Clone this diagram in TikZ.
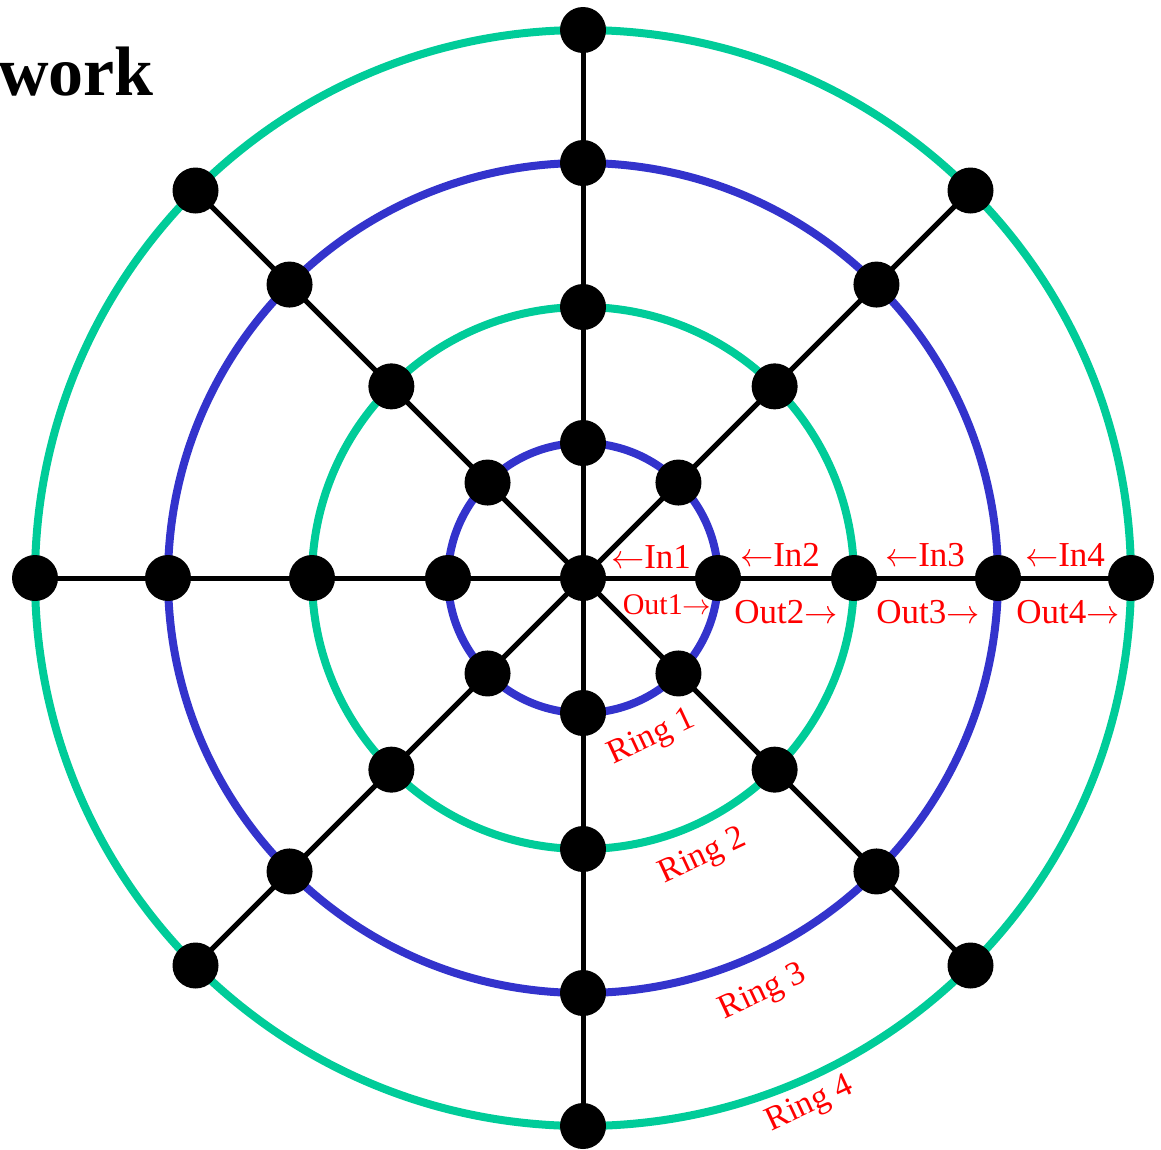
\documentclass[tikz,border=0pt]{standalone}
\usepackage{fontspec}
\setmainfont{Liberation Serif}
\usetikzlibrary{calc}
\definecolor{ringgreen}{HTML}{00CC99}
\definecolor{ringblue}{HTML}{3333CC}
\newcommand{\la}{\resizebox{0.95em}{!}{$\leftarrow$}}
\newcommand{\ra}{\resizebox{0.95em}{!}{$\rightarrow$}}
\begin{document}
\begin{tikzpicture}[x=1pt,y=-1pt,
  dot/.style={circle,fill=black,inner sep=0pt,minimum size=46pt},
  spoke/.style={line width=5pt,black},
  ringline/.style={line width=8pt},
  lbl/.style={text=red,inner sep=0pt,font=\fontsize{35}{38}\selectfont},
  smalllbl/.style={text=red,inner sep=0pt,font=\fontsize{30}{33}\selectfont},
  ringlbl/.style={text=red,inner sep=0pt,font=\fontsize{34}{38}\selectfont,rotate=25}]
\useasboundingbox (0,0) rectangle (1161,1149);
\coordinate (c) at (583,578);
% rings
\draw[ringline,ringblue] (c) circle[radius=135];
\draw[ringline,ringgreen] (c) circle[radius=271];
\draw[ringline,ringblue] (c) circle[radius=415];
\draw[ringline,ringgreen] (c) circle[radius=548];
% node positions
\coordinate (n0) at (c);
\foreach \a/\d in {0/E,45/NE,90/N,135/NW,180/W,225/SW,270/S,315/SE}{
  \foreach \r/\i in {135/1,271/2,415/3,548/4}{
    \coordinate (\d\i) at ($(c)+({\r*cos(\a)},{-\r*sin(\a)})$);
  }
}
% spokes
\foreach \d in {E,NE,N,NW,W,SW,S,SE}{
  \draw[spoke] (n0) -- (\d1) -- (\d2) -- (\d3) -- (\d4);
}
% dots
\node[dot] (dot0) at (n0) {};
\foreach \d in {E,NE,N,NW,W,SW,S,SE}{
  \foreach \i in {1,2,3,4}{ \node[dot] (dot\d\i) at (\d\i) {}; }
}
% labels
\node[lbl] (in1) at (651,557) {\la In1};
\node[lbl] (in2) at (780,555) {\la In2};
\node[lbl] (in3) at (925,555) {\la In3};
\node[lbl] (in4) at (1065,555) {\la In4};
\node[smalllbl] (out1) at (667,605) {Out1\ra};
\node[lbl] (out2) at (786,612) {Out2\ra};
\node[lbl] (out3) at (928,612) {Out3\ra};
\node[lbl] (out4) at (1068,612) {Out4\ra};
\node[ringlbl] (r1) at (652,738) {Ring 1};
\node[ringlbl] (r2) at (703,857) {Ring 2};
\node[ringlbl] (r3) at (763,993) {Ring 3};
\node[ringlbl] (r4) at (810,1105) {Ring 4};
\node[anchor=base west,inner sep=0pt,font=\fontsize{70}{80}\selectfont\bfseries] (title) at (-2,95) {work};
\end{tikzpicture}
\end{document}
